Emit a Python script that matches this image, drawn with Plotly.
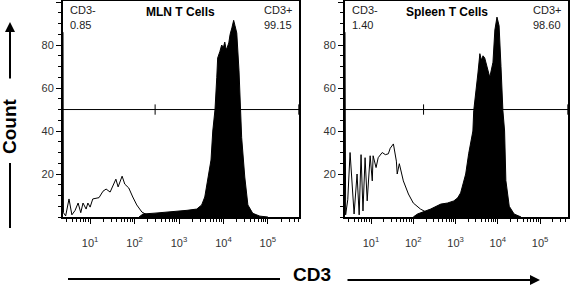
import numpy as np
import plotly.graph_objects as go

W, H = 570, 286

# ---------------- data (x in log10 CD3 intensity, y = count) ----------------
mln_open_log10 = [0.39, 0.40, 0.45, 0.525, 0.59, 0.66, 0.73, 0.79, 0.84, 0.91, 0.95, 1.0,
                  1.06, 1.2, 1.29, 1.36, 1.45, 1.54, 1.58, 1.63, 1.72, 1.78, 1.87, 1.96,
                  2.05, 2.165, 2.28, 2.46, 2.7]
mln_open_count = [86, 2, 0.5, 8.4, 1, 3, 6.5, 2, 6.5, 3.7, 6.5, 4.6,
                  8.4, 9, 12, 13, 11.6, 15.8, 17.6, 14, 19, 15.3, 13.5, 9.3,
                  5.6, 2.3, 1.0, 0.5, 0.3]

mln_fill_log10 = [2.1, 2.19, 2.46, 2.73, 3.0, 3.18, 3.40, 3.51, 3.58, 3.65, 3.72, 3.76,
                  3.81, 3.85, 3.87, 3.92, 3.96, 4.0, 4.03, 4.06, 4.08, 4.12, 4.15, 4.19,
                  4.23, 4.26, 4.30, 4.35, 4.39, 4.41, 4.48, 4.55, 4.66, 4.82, 5.0]
mln_fill_count = [0, 1.4, 1.8, 2.3, 2.6, 3.1, 3.7, 5.6, 9.3, 17, 26.5, 40,
                  50, 65, 74, 77, 80, 79, 81.4, 78, 78.6, 81, 85, 88,
                  91.5, 89, 85.6, 68, 50, 37, 18.6, 5.6, 1.7, 0.4, 0]

spl_open_log10 = [0.385, 0.40, 0.45, 0.505, 0.60, 0.67, 0.72, 0.765, 0.81, 0.86, 0.91, 0.98,
                  1.03, 1.05, 1.12, 1.17, 1.265, 1.34, 1.41, 1.455, 1.53, 1.60, 1.62, 1.67,
                  1.765, 1.885, 2.00, 2.17, 2.34, 2.53]
spl_open_count = [86, 1, 8, 30, 1.4, 20, 1, 29, 2.8, 27.6, 7.5, 28.5,
                  16.8, 28.5, 23, 27.6, 30, 29, 29.4, 32, 34, 26, 20, 24.8,
                  16.8, 10.7, 6.5, 3.7, 1.9, 0.5]

spl_fill_log10 = [2.0, 2.10, 2.41, 2.65, 2.81, 2.96, 3.05, 3.12, 3.24, 3.31, 3.41, 3.43,
                  3.53, 3.575, 3.61, 3.65, 3.69, 3.77, 3.81, 3.885, 3.93, 3.98, 4.03, 4.075,
                  4.12, 4.16, 4.19, 4.27, 4.385, 4.55]
spl_fill_count = [0, 1.4, 3.7, 6, 6.5, 7.5, 8.9, 11.2, 20, 29.4, 40, 49.5,
                  67, 76, 73, 75, 74, 67, 65, 72, 87, 93, 89, 70,
                  49.5, 40, 17, 5, 1.4, 0]

panel_titles = ["MLN T Cells", "Spleen T Cells"]
neg_pct = ["0.85", "1.40"]
pos_pct = ["99.15", "98.60"]
gate_split = [290, 175]          # CD3- / CD3+ boundary (intensity)
gate_level = 50
x_ranges_log10 = [[0.39, 5.70], [0.385, 5.66]]
y_ticks = [20, 40, 60, 80, 100]
x_tick_vals = [10, 100, 1000, 10000, 100000]
x_tick_text = ["10<sup>1</sup>", "10<sup>2</sup>", "10<sup>3</sup>", "10<sup>4</sup>", "10<sup>5</sup>"]

FONT = "Liberation Sans, Arial, sans-serif"

def px(x):
    return x / W

def py(y):
    return 1 - y / H

fig = go.Figure()

panels = [
    (mln_open_log10, mln_open_count, mln_fill_log10, mln_fill_count),
    (spl_open_log10, spl_open_count, spl_fill_log10, spl_fill_count),
]
axis_ids = [("x", "y"), ("x2", "y2")]

for i, (ol, oc, fl, fc) in enumerate(panels):
    xa, ya = axis_ids[i]
    fig.add_trace(go.Scatter(x=np.power(10.0, fl), y=fc, mode="lines", fill="tozeroy",
                             fillcolor="black", line=dict(color="black", width=1),
                             xaxis=xa, yaxis=ya, hoverinfo="skip"))
    fig.add_trace(go.Scatter(x=np.power(10.0, ol), y=oc, mode="lines",
                             line=dict(color="black", width=1),
                             xaxis=xa, yaxis=ya, hoverinfo="skip"))
    xmin = 10 ** x_ranges_log10[i][0]
    xmax = 10 ** x_ranges_log10[i][1]
    g = gate_split[i]
    gx = [xmin, xmax, None, g, g, None, xmax * 0.99, xmax * 0.99]
    gy = [gate_level, gate_level, None, gate_level - 2.4, gate_level + 2.4, None,
          gate_level - 2.4, gate_level + 2.4]
    fig.add_trace(go.Scatter(x=gx, y=gy, mode="lines", line=dict(color="black", width=1),
                             xaxis=xa, yaxis=ya, hoverinfo="skip", cliponaxis=False))

minor_vals = [k * 10 ** d for d in range(0, 6) for k in range(2, 10)]

x_domains = [[px(63), px(299)], [px(345), px(568)]]
y_domain = [py(217), py(1)]

common_x = dict(type="log", showline=True, linecolor="black", linewidth=1.5, mirror=True,
                ticks="outside", ticklen=5, tickcolor="black", tickwidth=1,
                tickvals=x_tick_vals, ticktext=x_tick_text, showgrid=False, zeroline=False,
                tickfont=dict(family=FONT, size=11, color="#333"), ticklabelstandoff=10,
                minor=dict(tickvals=minor_vals, ticks="outside", ticklen=3,
                           tickcolor="black", tickwidth=1, showgrid=False))
common_y = dict(range=[0, 100.5], showline=True, linecolor="black", linewidth=2, mirror=True,
                ticks="outside", ticklen=5, tickcolor="black", tickwidth=1,
                tickvals=y_ticks, showgrid=False, zeroline=False,
                tickfont=dict(family=FONT, size=11, color="#333"),
                minor=dict(dtick=5, ticks="outside", ticklen=3, tickcolor="black",
                           tickwidth=1, showgrid=False))

fig.update_layout(
    width=W, height=H, margin=dict(l=0, r=0, t=0, b=0),
    paper_bgcolor="white", plot_bgcolor="white", showlegend=False,
    xaxis=dict(domain=x_domains[0], range=x_ranges_log10[0], anchor="y", **common_x),
    yaxis=dict(domain=y_domain, anchor="x", **common_y),
    xaxis2=dict(domain=x_domains[1], range=x_ranges_log10[1], anchor="y2", **common_x),
    yaxis2=dict(domain=y_domain, anchor="x2", **common_y),
)

ann = []
txt = dict(family=FONT, size=11, color="#222")
left_x = [68, 350]
right_x = [294, 563]
title_x = [180, 447]
for i in range(2):
    ann.append(dict(x=px(left_x[i]), y=py(9.5), text="CD3-", xanchor="left", yanchor="middle",
                    font=txt))
    ann.append(dict(x=px(left_x[i]), y=py(25), text=neg_pct[i], xanchor="left",
                    yanchor="middle", font=txt))
    ann.append(dict(x=px(right_x[i]), y=py(9.5), text="CD3+", xanchor="right",
                    yanchor="middle", font=txt))
    ann.append(dict(x=px(right_x[i]), y=py(25), text=pos_pct[i], xanchor="right",
                    yanchor="middle", font=txt))
    ann.append(dict(x=px(title_x[i]), y=py(12), text="<b>" + panel_titles[i] + "</b>",
                    xanchor="center", yanchor="middle",
                    font=dict(family=FONT, size=12, color="black")))

ann.append(dict(x=px(9), y=py(126), text="<b>Count</b>", textangle=-90, xanchor="center",
                yanchor="middle", font=dict(family=FONT, size=19, color="black")))
ann.append(dict(x=px(312), y=py(274), text="<b>CD3</b>", xanchor="center",
                yanchor="middle", font=dict(family=FONT, size=19, color="black")))
# arrows
ann.append(dict(x=px(10), y=py(22), ax=0, ay=58, text="", showarrow=True, arrowhead=2,
                arrowsize=1, arrowwidth=2, arrowcolor="black"))
ann.append(dict(x=px(540), y=py(280), ax=-194, ay=0, text="", showarrow=True, arrowhead=2,
                arrowsize=1, arrowwidth=2, arrowcolor="black"))
for a in ann:
    a.setdefault("xref", "paper")
    a.setdefault("yref", "paper")
    a.setdefault("showarrow", False)
fig.update_layout(annotations=ann)

fig.update_layout(shapes=[
    dict(type="line", xref="paper", yref="paper", x0=px(10), x1=px(10), y0=py(163), y1=py(228),
         line=dict(color="black", width=2)),
    dict(type="line", xref="paper", yref="paper", x0=px(68), x1=px(280), y0=py(279), y1=py(279),
         line=dict(color="black", width=2)),
])

fig.write_html("out.html", config={"displayModeBar": False},
               post_script="document.body.style.margin='0';document.body.style.overflow='hidden';")
